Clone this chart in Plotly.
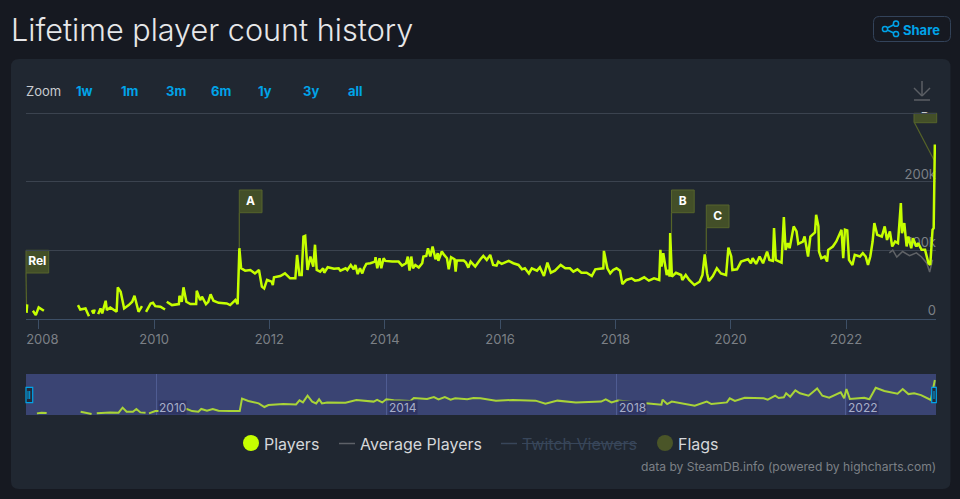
import datetime as dt
import plotly.graph_objects as go

# ---------- data ----------
player_years = [
 2007.79,2007.80,None,2007.90,2007.95,2008.00,2008.09,None,2008.68,2008.72,2008.81,2008.87,None,2008.92,2008.95,2008.97,None,
 2009.03,2009.07,2009.10,2009.16,2009.18,2009.24,2009.35,2009.37,2009.42,2009.48,2009.56,2009.62,2009.66,2009.70,2009.73,2009.79,None,
 2009.86,2009.94,2009.98,2010.02,2010.11,2010.19,None,2010.22,2010.31,2010.43,2010.44,2010.48,2010.51,2010.56,2010.63,2010.73,2010.74,
 2010.80,2010.83,2010.90,2010.94,2010.98,2011.03,2011.12,2011.26,2011.32,2011.41,2011.45,2011.48,2011.51,2011.58,2011.67,2011.75,2011.82,
 2011.87,2011.91,2011.96,2012.04,2012.06,2012.08,2012.19,2012.27,2012.36,2012.45,2012.48,2012.52,2012.56,2012.59,2012.62,2012.66,2012.71,
 2012.76,2012.79,2012.82,2012.88,2012.93,2012.95,2013.01,2013.12,2013.20,2013.23,2013.32,2013.35,2013.41,2013.46,2013.49,2013.53,2013.57,
 2013.61,2013.64,2013.68,2013.75,2013.83,2013.84,2013.87,2013.91,2013.94,2013.98,2014.01,2014.13,2014.24,2014.30,2014.37,2014.40,2014.43,
 2014.46,2014.49,2014.53,2014.59,2014.65,2014.67,2014.72,2014.75,2014.79,2014.83,2014.88,2014.92,2014.93,2014.99,2015.03,2015.08,2015.11,
 2015.15,2015.21,2015.23,2015.25,2015.37,2015.41,2015.45,2015.49,2015.57,2015.66,2015.71,2015.77,2015.83,2015.88,2015.94,2015.97,2016.03,
 2016.15,2016.23,2016.32,2016.38,2016.43,2016.50,2016.55,2016.64,2016.69,2016.76,2016.82,2016.88,2016.95,2017.05,2017.13,2017.21,2017.27,
 2017.34,2017.41,2017.50,2017.59,2017.65,2017.79,2017.80,2017.86,2017.91,2017.96,2018.02,2018.08,2018.12,2018.19,2018.28,2018.34,2018.41,
 2018.50,2018.58,2018.67,2018.76,2018.78,2018.80,2018.83,2018.86,2018.89,2018.92,2018.94,2018.95,2018.98,2019.05,2019.14,2019.16,2019.22,
 2019.28,2019.37,2019.46,2019.51,2019.55,2019.59,2019.62,2019.69,2019.76,2019.83,2019.92,2019.96,2020.01,2020.03,2020.11,2020.18,2020.30,
 2020.35,2020.38,2020.44,2020.50,2020.56,2020.63,2020.67,2020.73,2020.75,2020.78,2020.88,2020.92,2020.95,2020.99,2021.02,2021.09,2021.14,
 2021.17,2021.25,2021.28,2021.34,2021.38,2021.46,2021.48,2021.52,2021.53,2021.57,2021.63,2021.67,2021.69,2021.77,2021.83,2021.92,2021.95,
 2021.98,2022.02,2022.05,2022.11,2022.15,2022.24,2022.29,2022.34,2022.38,2022.42,2022.46,2022.49,2022.54,2022.62,2022.67,2022.71,2022.76,
 2022.80,2022.85,2022.90,2022.95,2022.97,2023.01,2023.05,2023.08,2023.13,2023.16,2023.22,2023.25,2023.31,2023.37,2023.43,2023.46,2023.47,
 2023.50,2023.52,2023.54]
player_counts_k = [
 8.3,20.6,None,11.3,4.9,16.2,11.3,None,19.6,13.2,14.7,3.4,None,12.3,7.4,13.2,None,
 6.4,14.7,7.4,26,12.3,16.2,9.8,45.6,39.2,14.7,19.6,24.5,33.3,19.6,9.8,18.1,None,
 9.8,22,23,18.1,17.2,13.2,None,24.5,19.6,21.1,33.3,24.5,45.6,24.5,21.1,21.1,40.7,
 27,31.9,21.1,24.5,35.3,26,23,22,19.6,27,21.1,102.9,73.5,70,71,66,71,
 46.6,44,56.4,53.9,49,60.3,62.2,66,58.8,58.8,93,63.7,63.7,120,121,71,90.7,
 76,108,71,68.6,73.5,67,75,73,73.5,70,73.5,71,78.4,72,78.4,65,73.5,
 66,73.5,80,81,83.3,89.7,73.5,88.2,73.5,88.2,84.3,83.3,83.3,77.4,80.9,90.7,70,
 90.7,73.5,78.4,74.5,80.9,90.7,91.6,102.9,90.7,105.4,86.7,95.6,84.3,98,93.1,88.2,72,
 89.7,86.7,68.6,84.8,84.8,81.8,74.5,83.3,76,86.7,91.6,85.8,93.1,78.4,77.4,83.3,79.9,
 84.3,80.9,78.4,72,73.5,66,73.5,70,75,62.2,81.8,67,70,78.4,73.5,73.5,68.6,
 72,67,67,62.2,72,73.5,99,73.5,66,71,73.5,70,50.5,56.4,58.8,55.4,56.4,
 60.3,55.4,58.8,56.4,100.5,76,95.6,80.9,63.7,71,61.3,125,61.3,67,63.7,56.4,63.7,
 56.4,49,53.9,63.7,94,66,54.9,62.2,73.5,66,63.7,103.9,90.7,71,72,83.3,86.7,
 80.9,88.2,79.9,90.7,80.9,98,85.8,84.3,132.3,85.8,81.8,148.5,100.5,110.3,102.9,134.8,127.4,
 109.3,112.7,120,90.7,120,125.9,151.9,134.8,98,88.2,90.7,83.3,100.5,105.4,112.7,129.9,88.2,
 129.9,128.9,85.8,78.4,93.1,90.7,95.6,90.7,78.4,90.7,112.7,139.7,122.5,120,134.8,115,127.4,
 105.4,112.7,110.3,169,125,139.7,105.4,120,102.9,117.6,105.4,110.3,100.5,100.5,80.9,78.4,90.7,
 129.9,132.3,254.8]

average_years = [2022.75,2022.81,2022.88,2022.98,2023.10,2023.22,2023.31,2023.40,2023.45,2023.50]
average_counts_k = [96,100,90,98,92,96,90,81,68,86]

navigator_years = [
 2007.79,None,2007.92,2008.00,2008.09,None,2008.68,2008.79,2008.87,None,2008.96,2009.05,2009.19,2009.34,2009.41,2009.48,2009.59,2009.65,
 2009.72,2009.81,None,2009.87,2009.98,2010.03,2010.53,2010.62,2010.73,2010.78,2010.88,2010.98,2011.08,2011.28,2011.45,2011.49,2011.60,
 2011.78,2011.88,2011.95,2012.21,2012.43,2012.49,2012.55,2012.63,2012.71,2012.78,2012.83,2012.88,2012.97,2013.29,2013.48,2013.61,2013.78,
 2013.84,2013.93,2014.00,2014.13,2014.42,2014.48,2014.71,2014.83,2014.91,2015.02,2015.12,2015.20,2015.41,2015.52,2015.64,2015.79,2015.91,
 2016.20,2016.60,2016.77,2016.98,2017.30,2017.74,2017.82,2017.92,2018.03,2018.53,2018.79,2018.81,2018.89,2018.97,2019.11,2019.37,2019.58,
 2019.66,2019.93,2019.98,2020.07,2020.24,2020.57,2020.64,2020.77,2020.83,2020.92,2020.96,2021.03,2021.12,2021.20,2021.35,2021.50,2021.59,
 2021.71,2021.91,2021.97,2022.01,2022.07,2022.32,2022.41,2022.52,2022.67,2022.90,2022.99,2023.09,2023.19,2023.31,2023.48,2023.55]
navigator_counts_k = [
 4,None,4,8,6,None,14,4,0,None,4,8,10,8,39,14,14,31,
 10,8,None,4,18,18,31,18,14,31,20,31,20,18,18,94,80,
 65,43,55,61,59,84,71,112,76,65,90,65,71,69,86,80,76,
 86,71,90,84,80,98,92,104,90,104,88,96,90,98,96,90,82,
 86,82,63,82,71,76,90,71,82,67,57,88,61,76,67,51,76,
 61,71,96,80,100,96,88,112,98,102,127,106,145,127,112,157,112,
 100,133,96,153,92,100,90,161,141,124,153,122,127,116,86,208]

axis_tick_years = [2008,2010,2012,2014,2016,2018,2020,2022]
axis_tick_labels = ["\u00a0\u00a02008","2010","2012","2014","2016","2018","2020","2022"]
y_tick_values = [0,100000,200000,300000]
y_label_values = [0,100000,200000]
y_label_texts = ["0","100k","200k"]
navigator_tick_years = [2010,2014,2018,2022]
zoom_buttons = ["1w","1m","3m","6m","1y","3y","all"]
flag_labels = ["Rel","A","B","C","D"]

# ---------- helpers ----------
W, H = 960, 499
def to_date(y):
    if y is None:
        return None
    year = int(y)
    start = dt.datetime(year, 1, 1)
    return start + (dt.datetime(year + 1, 1, 1) - start) * (y - year)
def dates(ys):
    return [to_date(v) for v in ys]
def thousands(vs):
    return [None if v is None else v * 1000 for v in vs]
def fx(x):
    return x / W
def fy(y):
    return 1 - y / H
def rrect(x0, y0, x1, y1, r):
    pts = [("M", x0 + r, y0), ("L", x1 - r, y0), ("Q", x1, y0, x1, y0 + r), ("L", x1, y1 - r),
           ("Q", x1, y1, x1 - r, y1), ("L", x0 + r, y1), ("Q", x0, y1, x0, y1 - r),
           ("L", x0, y0 + r), ("Q", x0, y0, x0 + r, y0)]
    out = []
    for p in pts:
        c = p[1:]
        out.append(p[0] + " ".join(f"{fx(c[i]):.5f},{fy(c[i+1]):.5f}" for i in range(0, len(c), 2)))
    return " ".join(out) + " Z"

PAGE = "#161921"
CARD = "#202731"
LIME = "#c6ff00"
BLUE = "#00a3e8"
GRID = "#3b434f"
AXIS = "#3d4f66"
FLAG_FILL = "#434f28"
FLAG_EDGE = "#56642c"
MUTED = "#7c8086"
FONT = "Inter"

shapes, ann = [], []
def rect(x0, y0, x1, y1, fill, line=None, width=1, layer="below"):
    shapes.append(dict(type="rect", xref="paper", yref="paper", x0=fx(x0), x1=fx(x1), y0=fy(y0), y1=fy(y1),
                       fillcolor=fill, line=dict(color=line or fill, width=width if line else 0), layer=layer))
def seg(x0, y0, x1, y1, color, width=1, layer="above"):
    shapes.append(dict(type="line", xref="paper", yref="paper", x0=fx(x0), x1=fx(x1), y0=fy(y0), y1=fy(y1),
                       line=dict(color=color, width=width), layer=layer))
def circle(cx, cy, r, fill, line=None, width=1.5):
    shapes.append(dict(type="circle", xref="paper", yref="paper", x0=fx(cx - r), x1=fx(cx + r), y0=fy(cy - r), y1=fy(cy + r),
                       fillcolor=fill, line=dict(color=line or fill, width=width if line else 0), layer="above"))
def text(x, y, s, size=13, color="#d8dadd", anchor="left", weight=400, **kw):
    # annotations keep a small padding round the text
    nudge = {"left": -2, "right": 2, "center": 0}[anchor]
    ann.append(dict(xref="paper", yref="paper", x=fx(x + nudge), y=fy(y), xanchor=anchor, yanchor="middle", text=s, showarrow=False,
                    font=dict(family=FONT, size=size, color=color, weight=weight), **kw))

# card and header
shapes.append(dict(type="path", xref="paper", yref="paper", path=rrect(11, 59, 950.5, 489, 8), fillcolor=CARD, line=dict(width=0), layer="below"))
text(11, 30, "Lifetime player count history", size=30.6, color="#e6e7e9", weight=300)
shapes.append(dict(type="path", xref="paper", yref="paper", path=rrect(873.5, 16.5, 950.5, 41.5, 6), fillcolor="rgba(0,0,0,0)", line=dict(color="#33435a", width=1), layer="below"))
for a, b in [((885, 29), (896, 23.7)), ((885, 29), (896, 34))]:
    seg(a[0], a[1], b[0], b[1], BLUE, 1.5)
circle(885, 29, 2.6, PAGE, BLUE)
circle(896, 23.7, 2.6, PAGE, BLUE)
circle(896, 34, 2.6, PAGE, BLUE)
text(903, 29.5, "Share", size=13, color=BLUE, weight=700)

# zoom row
text(26, 90.5, "Zoom", size=13, color="#c9ccd0")
for label, cx in zip(zoom_buttons, [84, 129.5, 176, 221, 264.5, 311, 355]):
    text(cx, 90.5, label, size=13, color=BLUE, anchor="center", weight=700)

# download icon
for s in [(922, 81, 922, 96), (914, 88, 922, 96), (930, 88, 922, 96), (914, 100, 930, 100)]:
    seg(*s, "#5b5f65", 1.5)

# flags
for label, bx, by, px, py in zip(flag_labels,
                                 [26, 239.3, 671.5, 706.3, 914],
                                 [250.3, 190, 190, 205, 100],
                                 [26.5, 239.3, 671.5, 706.3, 934],
                                 [305, 248, 233, 254, 160]):
    top = max(by, 113.3)
    seg(bx + (0.5 if label == "D" else 0), by + 22.7, px, py, "#566428", 1.2, layer="below")
    rect(bx, top, bx + 22.7, by + 22.7, FLAG_FILL, FLAG_EDGE, 1)

# navigator
rect(26, 374, 936, 415, "#3a4473")
for cx, label in zip([172.5, 402.5, 632.5, 863], navigator_tick_years):
    text(cx, 407.5, str(label), size=12, color="#a7aec8", anchor="center", bgcolor="#2f3564", borderpad=0, height=13)

for x0, x1, lines in [(26, 32.7, (28, 29.7)), (931.7, 936.3, (934,))]:
    rect(x0, 387.3, x1, 402.7, "#222a3a", BLUE, 1.2, layer="above")
    for lx in lines:
        seg(lx, 391, lx, 399, BLUE, 1)

# legend
circle(251, 443, 8, LIME)
text(264, 443.5, "Players", size=16, color="#d5d7da")
seg(339, 443.5, 355, 443.5, "#5d6168", 1.5)
text(360, 443.5, "Average Players", size=16, color="#d5d7da")
seg(501, 443.5, 517, 443.5, "#38465a", 1.5)
text(522, 443.5, "Twitch Viewers", size=16, color="#38465a")
seg(522, 443.5, 637, 443.5, "#38465a", 1.2)
circle(665, 443, 8, "#4a5528")
text(678, 443.5, "Flags", size=16, color="#d5d7da")
text(936, 466.5, "data by SteamDB.info (powered by highcharts.com)", size=12.1, color=MUTED, anchor="right")

X_RANGE = (2007.78, 2023.56)
Y_TOP = 302000
PLOT_TOP_PX = 112.2
X_PER_PX = (X_RANGE[1] - X_RANGE[0]) / 910
Y_PER_PX = Y_TOP / (318.5 - PLOT_TOP_PX)

fig = go.Figure()
# value labels sit inside the plot, a little above their grid lines and underneath the lines
fig.add_trace(go.Scatter(x=[to_date(X_RANGE[1])] * len(y_label_values), y=[v + 6.5 * Y_PER_PX for v in y_label_values],
                         mode="text", text=y_label_texts, textposition="middle left",
                         textfont=dict(family=FONT, size=13, color=MUTED), cliponaxis=False,
                         xaxis="x", yaxis="y", showlegend=False))
fig.add_trace(go.Scatter(x=dates(average_years), y=thousands(average_counts_k), mode="lines", name="Average Players",
                         line=dict(color="#5f6266", width=1.5), xaxis="x", yaxis="y", showlegend=False))
fig.add_trace(go.Scatter(x=dates(player_years), y=thousands(player_counts_k), mode="lines", name="Players",
                         line=dict(color=LIME, width=2.5), connectgaps=False, xaxis="x", yaxis="y", showlegend=False))
fig.add_trace(go.Scatter(x=dates(navigator_years), y=thousands(navigator_counts_k), mode="lines", name="Navigator",
                         line=dict(color="#a9d438", width=2), connectgaps=False, xaxis="x2", yaxis="y2", showlegend=False))

# flag letters: clipped by the plot, so the top flag only shows its foot, as in the reference
letter_x = [X_RANGE[0] + (c - 26) * X_PER_PX for c in [37.3, 250.6, 682.8, 717.6, 925.3]]
letter_y = [(318.5 - c) * Y_PER_PX for c in [262.2, 201.8, 201.8, 216.8, 115.5]]
letter_pos = ["middle center"] * 4 + ["top center"]
fig.add_trace(go.Scatter(x=dates(letter_x), y=letter_y, mode="text", text=flag_labels, textposition=letter_pos,
                         textfont=dict(family=FONT, size=12, color="#ffffff", weight=700), cliponaxis=True,
                         xaxis="x", yaxis="y", showlegend=False))

fig.update_layout(
    width=W, height=H, margin=dict(l=0, r=0, t=0, b=0, autoexpand=False), autosize=False, showlegend=False,
    paper_bgcolor=PAGE, plot_bgcolor="rgba(0,0,0,0)", font=dict(family=FONT, size=13, color=MUTED),
    shapes=shapes, annotations=ann,
    xaxis=dict(domain=[fx(26), fx(936)], anchor="y", type="date", range=[to_date(X_RANGE[0]), to_date(X_RANGE[1])],
               tickmode="array", tickvals=dates(axis_tick_years), ticktext=axis_tick_labels, showgrid=False,
               showline=True, linecolor=AXIS, linewidth=1, ticks="outside", ticklen=9, tickcolor=AXIS, tickwidth=1,
               tickfont=dict(family=FONT, size=13, color=MUTED), zeroline=False),
    yaxis=dict(domain=[fy(318.5), fy(PLOT_TOP_PX)], anchor="x", side="right", range=[0, Y_TOP], tickmode="array",
               tickvals=y_tick_values, showticklabels=False,
               gridcolor=GRID, gridwidth=1, zeroline=False, showline=False, ticks=""),
    xaxis2=dict(domain=[fx(26), fx(936)], anchor="y2", type="date", range=[to_date(2007.73), to_date(2023.57)],
                tickmode="array", tickvals=dates(navigator_tick_years), showticklabels=False, showgrid=True,
                gridcolor="#4f5c92", gridwidth=1, zeroline=False, showline=False, ticks=""),
    yaxis2=dict(domain=[fy(415), fy(374)], anchor="x2", range=[-6000, 245000], showgrid=False, zeroline=False,
                showticklabels=False, ticks="", showline=False),
)
fig.write_html("out.html", config=dict(displayModeBar=False),
               post_script="document.body.style.margin='0';document.body.style.background='#161921';document.body.style.overflow='hidden';")
